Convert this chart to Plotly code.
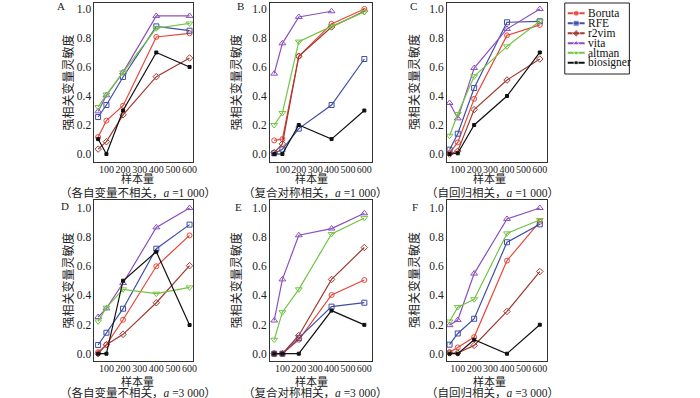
import plotly.graph_objects as go

W, H = 700, 398

sample_sizes = [50, 100, 200, 400, 600]
methods = ["Boruta", "RFE", "r2vim", "vita", "altman", "biosigner"]
colors = ["#e8463a", "#3f4ea6", "#a2392e", "#8d4fc0", "#72c443", "#111111"]
symbols = ["circle-open", "square-open", "diamond-open", "triangle-up-open", "triangle-down-open", "square"]
legend_symbols = ["circle", "square", "diamond", "triangle-up", "triangle-down", "square"]
marker_sizes = [5, 5, 5, 6, 6, 3]

panel_letters = ["A", "B", "C", "D", "E", "F"]
panel_captions = [
    "（各自变量不相关，<i>a</i> =1 000）",
    "（复合对称相关，<i>a</i> =1 000）",
    "（自回归相关，<i>a</i> =1 000）",
    "（各自变量不相关，<i>a</i> =3 000）",
    "（复合对称相关，<i>a</i> =3 000）",
    "（自回归相关，<i>a</i> =3 000）",
]
y_ticks = [0.0, 0.2, 0.4, 0.6, 0.8, 1.0]
x_ticks = [100, 200, 300, 400, 500, 600]

# sensitivity values per panel, per method
panel_A = {
    "Boruta":    [0.117, 0.23, 0.333, 0.807, 0.832],
    "RFE":       [0.255, 0.338, 0.531, 0.88, 0.85],
    "r2vim":     [0.034, 0.085, 0.27, 0.533, 0.662],
    "vita":      [0.294, 0.405, 0.563, 0.952, 0.952],
    "altman":    [0.324, 0.41, 0.563, 0.867, 0.9],
    "biosigner": [0.103, 0.0, 0.30, 0.70, 0.60],
}
panel_B = {
    "Boruta":    [0.094, 0.103, 0.674, 0.897, 1.0],
    "RFE":       [0.005, 0.032, 0.175, 0.338, 0.655],
    "r2vim":     [0.01, 0.07, 0.674, 0.876, 0.984],
    "vita":      [0.554, 0.763, 0.945, 0.984, None],
    "altman":    [0.2, 0.283, 0.775, 0.88, 0.979],
    "biosigner": [0.0, 0.0, 0.2, 0.103, 0.3],
}
panel_C = {
    "Boruta":    [0.007, 0.08, 0.38, 0.818, 0.89],
    "RFE":       [0.03, 0.14, 0.455, 0.908, 0.915],
    "r2vim":     [0.0, 0.02, 0.306, 0.51, 0.655],
    "vita":      [0.352, 0.246, 0.593, 0.862, 1.0],
    "altman":    [0.126, 0.276, 0.536, 0.742, 0.915],
    "biosigner": [0.0, 0.005, 0.2, 0.4, 0.70],
}
panel_D = {
    "Boruta":    [0.011, 0.062, 0.233, 0.6, 0.812],
    "RFE":       [0.06, 0.144, 0.309, 0.721, 0.886],
    "r2vim":     [0.0, 0.062, 0.133, 0.35, 0.604],
    "vita":      [0.252, 0.311, 0.485, 0.867, 1.0],
    "altman":    [0.222, 0.316, 0.442, 0.412, 0.455],
    "biosigner": [0.0, 0.0, 0.501, 0.70, 0.197],
}
panel_E = {
    "Boruta":    [0.0, 0.0, 0.096, 0.403, 0.506],
    "RFE":       [0.0, 0.0, 0.107, 0.323, 0.35],
    "r2vim":     [0.0, 0.0, 0.125, 0.51, 0.729],
    "vita":      [0.228, 0.51, 0.813, 0.859, 0.964],
    "altman":    [0.096, 0.285, 0.442, 0.822, 0.932],
    "biosigner": [0.0, 0.0, 0.0, 0.296, 0.198],
}
panel_F = {
    "Boruta":    [0.011, 0.043, 0.114, 0.639, 0.906],
    "RFE":       [0.062, 0.139, 0.24, 0.765, 0.888],
    "r2vim":     [0.005, 0.005, 0.057, 0.29, 0.564],
    "vita":      [0.196, 0.231, 0.55, 0.925, 1.0],
    "altman":    [0.221, 0.32, 0.374, 0.826, 0.918],
    "biosigner": [0.0, 0.0, 0.096, 0.0, 0.199],
}
panels = [panel_A, panel_B, panel_C, panel_D, panel_E, panel_F]

# ---------------- layout geometry (pixels) ----------------
FONT = "Liberation Serif, Times New Roman, Noto Sans CJK SC"
col_px = [(95, 194), (271.5, 374), (449.5, 550.5)]
row_px = [(3, 162), (200, 361)]
x_ranges = [[28, 620], [24, 646], [34, 646]]
y_ranges = [[-0.055, 1.041], [-0.05, 1.055]]
letter_pos = [(61.5, 6), (242, 6), (416, 6), (65, 205.5), (240, 207.5), (417.5, 207)]
ytitle_x = [68.5, 238, 417]
xtitle_x = [138.5, 313, 492.5]
caption_x = [139, 317, 495]
xtitle_y = [178.5, 381.5]
caption_y = [192.5, 392]


def px(x):
    return x / W


def py(y):
    return 1 - y / H


fig = go.Figure()
layout = dict(
    width=W, height=H,
    margin=dict(l=0, r=0, t=0, b=0),
    paper_bgcolor="white", plot_bgcolor="white",
    font=dict(family=FONT, size=11, color="#222"),
    showlegend=False,
)
annotations = []
shapes = []

for i, data in enumerate(panels):
    r, c = divmod(i, 3)
    ax = i + 1
    xa = "x" if ax == 1 else f"x{ax}"
    ya = "y" if ax == 1 else f"y{ax}"
    for k, m in enumerate(methods):
        fig.add_trace(go.Scatter(
            x=sample_sizes, y=data[m], mode="lines+markers",
            line=dict(color=colors[k], width=1.2),
            marker=dict(symbol=symbols[k], size=marker_sizes[k], color=colors[k],
                        line=dict(width=1, color=colors[k])),
            xaxis=xa, yaxis=ya, name=m, connectgaps=False,
        ))
    layout[f"xaxis{'' if ax == 1 else ax}"] = dict(
        domain=[px(col_px[c][0]), px(col_px[c][1])],
        range=x_ranges[c], tickvals=x_ticks, tickangle=0,
        showline=True, mirror=True, linecolor="#333", linewidth=1,
        showgrid=False, zeroline=False, ticks="", ticklabelstandoff=-2,
        tickfont=dict(family=FONT, size=10, color="#222"),
        anchor=ya,
    )
    layout[f"yaxis{'' if ax == 1 else ax}"] = dict(
        domain=[py(row_px[r][1]), py(row_px[r][0])],
        range=y_ranges[r], tickvals=y_ticks, tickformat=".1f",
        showline=True, mirror=True, linecolor="#333", linewidth=1,
        showgrid=False, zeroline=False, ticks="",
        tickfont=dict(family=FONT, size=11.5, color="#222"),
        anchor=xa,
    )
    lx, ly = letter_pos[i]
    annotations.append(dict(text=panel_letters[i], x=px(lx), y=py(ly), xref="paper", yref="paper",
                            showarrow=False, font=dict(family=FONT, size=11, color="#222"),
                            xanchor="center", yanchor="middle"))
    annotations.append(dict(text="强相关变量灵敏度", x=px(ytitle_x[c]),
                            y=py((row_px[r][0] + row_px[r][1]) / 2), xref="paper", yref="paper",
                            showarrow=False, textangle=-90,
                            font=dict(family=FONT, size=12, color="#222"),
                            xanchor="center", yanchor="middle"))
    annotations.append(dict(text="样本量", x=px(xtitle_x[c]), y=py(xtitle_y[r]),
                            xref="paper", yref="paper", showarrow=False,
                            font=dict(family=FONT, size=11, color="#222"),
                            xanchor="center", yanchor="middle"))
    annotations.append(dict(text=panel_captions[i], x=px(caption_x[c]), y=py(caption_y[r]),
                            xref="paper", yref="paper", showarrow=False,
                            font=dict(family=FONT, size=11.5, color="#222"),
                            xanchor="center", yanchor="middle"))

# ---------------- manual legend ----------------
leg_box = (568, 3, 633, 74)
leg_rows = [13.3, 23.3, 33.3, 43.3, 52.7, 62.7]
leg_line = (571, 588)
layout["xaxis7"] = dict(domain=[px(leg_box[0]), px(leg_box[2])], range=[leg_box[0], leg_box[2]],
                        visible=False, anchor="y7", fixedrange=True)
layout["yaxis7"] = dict(domain=[py(leg_box[3]), py(leg_box[1])], range=[leg_box[3], leg_box[1]],
                        visible=False, anchor="x7", fixedrange=True)
for k, m in enumerate(methods):
    yk = leg_rows[k]
    fig.add_trace(go.Scatter(
        x=[leg_line[0], (leg_line[0] + leg_line[1]) / 2, leg_line[1]], y=[yk, yk, yk],
        mode="lines+markers", line=dict(color=colors[k], width=2),
        marker=dict(symbol=legend_symbols[k], size=[0, 6 if k < 5 else 4, 0], color=colors[k]),
        xaxis="x7", yaxis="y7", hoverinfo="skip",
    ))
    annotations.append(dict(text=m, x=px(leg_line[1] + 1), y=py(yk), xref="paper", yref="paper",
                            showarrow=False, font=dict(family=FONT, size=11.5, color="#111"),
                            xanchor="left", yanchor="middle"))
shapes.append(dict(type="rect", xref="paper", yref="paper",
                   x0=px(leg_box[0]), x1=px(leg_box[2]), y0=py(leg_box[3]), y1=py(leg_box[1]),
                   line=dict(color="#222", width=1)))

layout["annotations"] = annotations
layout["shapes"] = shapes
fig.update_layout(**layout)
fig.write_html("out.html", config={"displayModeBar": False},
               post_script="document.body.style.margin='0';document.body.style.padding='0';")
